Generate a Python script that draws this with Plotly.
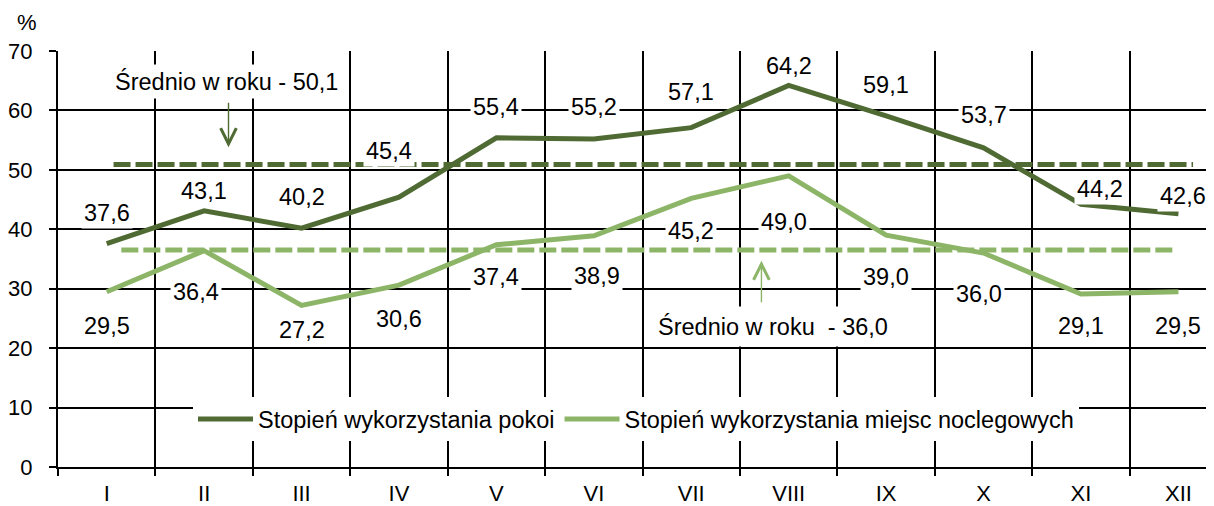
import plotly.graph_objects as go

months = ["I", "II", "III", "IV", "V", "VI", "VII", "VIII", "IX", "X", "XI", "XII"]
rooms = [37.6, 43.1, 40.2, 45.4, 55.4, 55.2, 57.1, 64.2, 59.1, 53.7, 44.2, 42.6]
beds = [29.5, 36.4, 27.2, 30.6, 37.4, 38.9, 45.2, 49.0, 39.0, 36.0, 29.1, 29.5]
rooms_avg_label = "Średnio w roku - 50,1"
beds_avg_label = "Średnio w roku\u00a0\u00a0- 36,0"
rooms_avg_drawn = 50.9   # level at which the dashed line is drawn in the picture
beds_avg_drawn = 36.5
y_ticks = [0, 10, 20, 30, 40, 50, 60, 70]
names = ["Stopień wykorzystania pokoi", "Stopień wykorzystania miejsc noclegowych"]

# label placement offsets (pixels) - styling only
rooms_lab_up = [31, 20, 31, 46, 31, 32, 36, 19, 31, 33, 15, 18]
rooms_lab_dx = [0, 0, 0, -10, 0, 0, 0, 0, 0, 0, 19, 5]
beds_lab_down = [34, 41, 25, 34, 32, 40, 33, 46, 42, 41, 32, 34]
beds_lab_dx = [0, -8, 0, 0, 0, 3, 0, -5, 0, -5, 0, 0]

DARK = "#4F6B33"
LIGHT = "#8DB568"
FONT = "Liberation Sans, Arial, sans-serif"
LAB = 23.5

x = list(range(len(months)))
fig = go.Figure()

# average dashed lines
fig.add_trace(go.Scatter(x=[0.07, 11.15], y=[rooms_avg_drawn] * 2, mode="lines",
                         line=dict(color=DARK, width=5, dash="17px,5px"),
                         showlegend=False, hoverinfo="skip"))
fig.add_trace(go.Scatter(x=[0.15, 10.95], y=[beds_avg_drawn] * 2, mode="lines",
                         line=dict(color=LIGHT, width=5, dash="17px,5px"),
                         showlegend=False, hoverinfo="skip"))

fig.add_trace(go.Scatter(x=x, y=rooms, mode="lines", name=names[0],
                         line=dict(color=DARK, width=5)))
fig.add_trace(go.Scatter(x=x, y=beds, mode="lines", name=names[1],
                         line=dict(color=LIGHT, width=5)))

ann = []
for i, v in enumerate(rooms):
    ann.append(dict(x=i, y=v, xref="x", yref="y", text=f"{v:.1f}".replace(".", ","),
                    showarrow=False, yshift=rooms_lab_up[i], xshift=rooms_lab_dx[i],
                    bgcolor="white", borderpad=2,
                    font=dict(size=LAB, color="black", family=FONT)))
for i, v in enumerate(beds):
    ann.append(dict(x=i, y=v, xref="x", yref="y", text=f"{v:.1f}".replace(".", ","),
                    showarrow=False, yshift=-beds_lab_down[i], xshift=beds_lab_dx[i],
                    bgcolor="white", borderpad=2,
                    font=dict(size=LAB, color="black", family=FONT)))

# average annotations
ann.append(dict(x=1.23, y=64.8, xref="x", yref="y", text=rooms_avg_label, showarrow=False,
                bgcolor="white", borderpad=3, font=dict(size=LAB, color="black", family=FONT)))
ann.append(dict(x=1.25, y=53.8, xref="x", yref="y", text="", showarrow=True,
                ax=0, ay=-46, arrowhead=5, arrowsize=2.2, arrowwidth=1.4, arrowcolor=DARK))
ann.append(dict(x=6.84, y=23.6, xref="x", yref="y", text=beds_avg_label, showarrow=False,
                bgcolor="white", borderpad=6, font=dict(size=LAB, color="black", family=FONT)))
ann.append(dict(x=6.72, y=34.7, xref="x", yref="y", text="", showarrow=True,
                ax=0, ay=43, arrowhead=5, arrowsize=2.2, arrowwidth=1.4, arrowcolor=LIGHT))

# page body has an 8px margin: shrink figure so the plot lands where the reference has it
OFF = 8
W, H = 1214 - OFF, 506 - OFF
ml, mr, mt, mb = 56 - OFF, 0, 51 - OFF, 37
pw, ph = W - ml - mr, H - mt - mb
ann.append(dict(x=(25 - 56) / pw, y=(469 - 22) / ph, xref="paper", yref="paper", text="%",
                xanchor="center", yanchor="middle", showarrow=False,
                font=dict(size=22, color="black", family=FONT)))

fig.update_layout(annotations=ann)

fig.update_layout(
    width=W, height=H,
    margin=dict(l=ml, r=mr, t=mt, b=mb, pad=0),
    paper_bgcolor="white", plot_bgcolor="white",
    font=dict(family=FONT, size=22, color="black"),
    showlegend=True,
    legend=dict(orientation="h", x=0.5, y=(469 - 421) / ph, xanchor="center", yanchor="middle",
                bgcolor="white", font=dict(size=LAB, family=FONT, color="black"),
                itemwidth=55, tracegroupgap=0),
    xaxis=dict(range=[-0.5, 11.365], tickmode="array", tickvals=x, ticktext=months,
               showgrid=False, ticks="", showline=True, linecolor="black", linewidth=2,
               zeroline=False, ticklabelstandoff=6,
               minor=dict(tickmode="array", tickvals=[k - 0.5 for k in range(13)],
                          showgrid=True, gridcolor="black", gridwidth=1.5,
                          ticks="outside", ticklen=7, tickcolor="black", tickwidth=1.5),
               tickfont=dict(size=22)),
    yaxis=dict(range=[0, 70], tickmode="array", tickvals=y_ticks,
               showgrid=True, gridcolor="black", gridwidth=1.5,
               ticks="outside", ticklen=7, tickcolor="black", tickwidth=1.5,
               showline=True, linecolor="black", linewidth=2, zeroline=False,
               ticklabelstandoff=12, tickfont=dict(size=22)),
)

fig.write_html("out.html")
